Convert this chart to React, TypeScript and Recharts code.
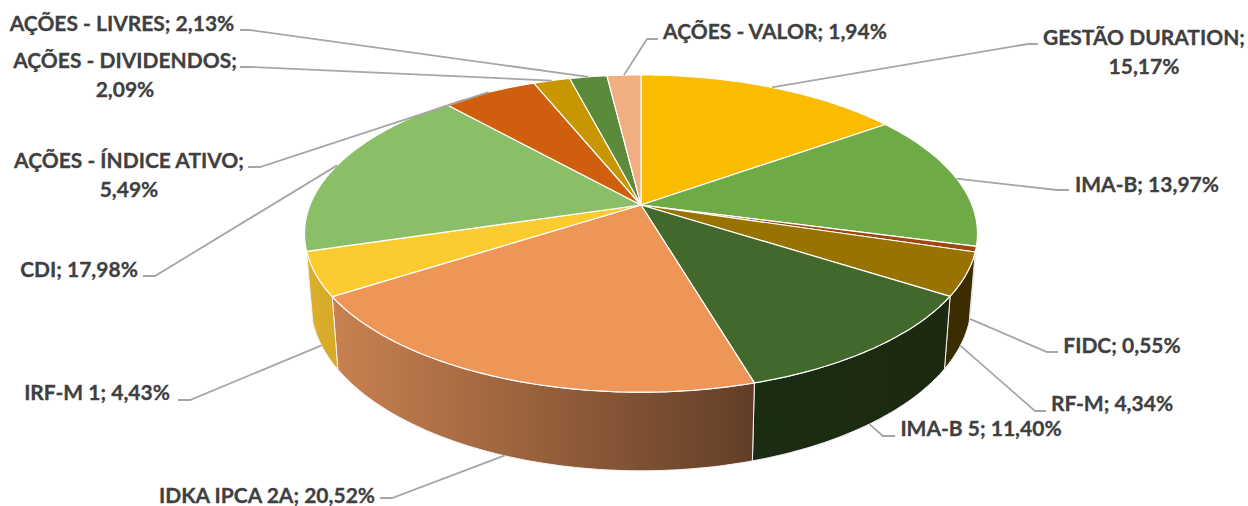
import { Pie, PieChart } from "recharts";

const names = [
  "GESTÃO DURATION", "IMA-B", "FIDC", "RF-M", "IMA-B 5", "IDKA IPCA 2A",
  "IRF-M 1", "CDI", "AÇÕES - ÍNDICE ATIVO", "AÇÕES - DIVIDENDOS", "AÇÕES - LIVRES", "AÇÕES - VALOR",
];
const values = [15.17, 13.97, 0.55, 4.34, 11.4, 20.52, 4.43, 17.98, 5.49, 2.09, 2.13, 1.94];

const topColors = [
  "#fbbc00", "#6eab47", "#9e480e", "#997300", "#43682b", "#ee9558",
  "#fbcb2f", "#8abf67", "#cf5f0f", "#c79600", "#5a8a3a", "#f1ae81",
];
// side wall gradient left -> right, null where the wall can't be seen
const wallColors: ([string, string] | null)[] = [
  null, null, ["#3a2c00", "#3a2c00"], ["#3a2c00", "#3c2d00"], ["#1a2c12", "#1d2910"], ["#c98150", "#623e27"],
  ["#dcb02e", "#d6aa28"], null, null, null, null, null,
];

// names whose value goes on a second line
const wrapped = ["GESTÃO DURATION", "AÇÕES - ÍNDICE ATIVO", "AÇÕES - DIVIDENDOS"];

// label layout: text centre x, first baseline y, elbow and tail of the leader line
const labelX = [1144, 1147, 1122, 1112, 981, 267, 97, 79, 129, 125, 122, 775];
const labelY = [45, 192, 353, 411, 436, 503, 400, 277, 168, 68, 31, 39];
const elbows = [[1028, 44], [1057, 190], [1047, 352], [1035, 411], [883, 436], [392, 498], [190, 400], [155, 276], [260, 167], [252, 67], [250, 30], [647, 39]];
const tails = [[1038, 44], [1069, 190], [1058, 352], [1046, 411], [895, 436], [380, 498], [178, 400], [143, 276], [248, 167], [240, 67], [240, 30], [658, 39]];

const chartData = names.map((name, i) => ({ name, value: values[i], fill: topColors[i], wall: wallColors[i] }));

// Excel 3D pie projection, the circle is seen in perspective
const PERSP = 0.18;
const TOP_B = 153.5;
const BOTTOM_B = 163;
const BOTTOM_Y = 272;
const BOTTOM_SCALE = 0.982;
const WALL_FROM = 104;
const WALL_TO = 254;

const toTheta = (angle: number) => 90 - angle;

function project(cx: number, cy: number, r: number, b: number, theta: number) {
  const t = (theta * Math.PI) / 180;
  const den = 1 + PERSP * Math.cos(t);
  return [cx + (r * Math.sin(t)) / den, cy - (b * Math.cos(t)) / den];
}
const topRim = (cx: number, cy: number, r: number, theta: number) => project(cx, cy, r, TOP_B, theta);
const bottomRim = (cx: number, r: number, theta: number) => project(cx, BOTTOM_Y, r * BOTTOM_SCALE, BOTTOM_B, theta);

function arc(from: number, to: number, fn: (t: number) => number[]) {
  const pts: number[][] = [];
  const steps = Math.max(2, Math.ceil(Math.abs(to - from)));
  for (let i = 0; i <= steps; i++) pts.push(fn(from + ((to - from) * i) / steps));
  return pts;
}
const toPath = (pts: number[][]) => pts.map((p, i) => `${i ? "L" : "M"}${p[0].toFixed(1)},${p[1].toFixed(1)}`).join(" ");

const Slice3D = (props: any) => {
  const { cx, cy, outerRadius: r, startAngle, endAngle, fill, index } = props;
  const from = toTheta(startAngle);
  const to = toTheta(endAngle);
  const wall = props.wall ?? props.payload?.wall;
  const top = toPath([[cx, cy], ...arc(from, to, (t) => topRim(cx, cy, r, t))]) + " Z";

  let wallEl = null;
  if (wall) {
    const a = Math.max(from, WALL_FROM);
    const b = Math.min(to, WALL_TO);
    const upper = arc(a, b, (t) => topRim(cx, cy, r, t));
    const lower = arc(b, a, (t) => bottomRim(cx, r, t));
    const xs = [...upper, ...lower].map((p) => p[0]);
    const id = `wall-${index}`;
    wallEl = (
      <>
        <defs>
          <linearGradient id={id} gradientUnits="userSpaceOnUse" x1={Math.min(...xs)} x2={Math.max(...xs)} y1={0} y2={0}>
            <stop offset="0%" stopColor={wall[0]} />
            <stop offset="100%" stopColor={wall[1]} />
          </linearGradient>
        </defs>
        <path d={toPath([...upper, ...lower]) + " Z"} fill={`url(#${id})`} stroke="#f2f2f2" strokeWidth={1} strokeLinejoin="round" />
      </>
    );
  }
  return (
    <g>
      {wallEl}
      <path d={top} fill={fill} stroke="#ffffff" strokeWidth={1.2} strokeLinejoin="round" />
    </g>
  );
};

const textStyle = {
  textAnchor: "middle" as const,
  fontFamily: "Lato, sans-serif",
  fontWeight: 700,
  fontSize: 21,
  fill: "#404040",
  stroke: "#404040",
  strokeWidth: 0.3,
};

const SliceLabel = (props: any) => {
  const { cx, cy, outerRadius: r, midAngle, index, name, value } = props;
  const theta = toTheta(midAngle);
  const t = ((theta % 360) + 360) % 360;
  const anchor = t > WALL_FROM - 4 && t < WALL_TO + 4 ? bottomRim(cx, r, t) : topRim(cx, cy, r, t);
  const text = value.toFixed(2).replace(".", ",") + "%";
  const isWrapped = wrapped.includes(name);
  const pts = [anchor, elbows[index], tails[index]].map((p) => p.join(",")).join(" ");
  return (
    <g>
      <polyline points={pts} fill="none" stroke="#a6a6a6" strokeWidth={1.8} />
      <text x={labelX[index]} y={labelY[index]} {...textStyle}>
        {isWrapped ? `${name};` : `${name}; ${text}`}
      </text>
      {isWrapped && (
        <text x={labelX[index]} y={labelY[index] + 29} {...textStyle}>
          {text}
        </text>
      )}
    </g>
  );
};

export default function App() {
  return (
    <div style={{ position: "absolute", left: 0, top: 0, width: 1248, height: 506, background: "#fff" }}>
      <PieChart width={1248} height={506} margin={{ top: 0, right: 0, bottom: 0, left: 0 }}>
        <Pie
          data={chartData}
          dataKey="value"
          nameKey="name"
          cx={641}
          cy={205}
          outerRadius={331}
          startAngle={90}
          endAngle={-270}
          stroke="none"
          isAnimationActive={false}
          shape={Slice3D}
          label={SliceLabel}
          labelLine={false}
        />
      </PieChart>
    </div>
  );
}
